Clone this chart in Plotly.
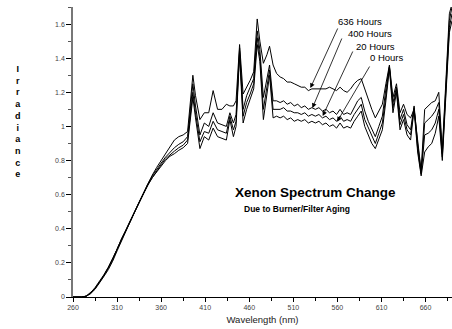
import plotly.graph_objects as go

wavelength = [260, 270, 275, 280, 285, 290, 295, 300, 305, 310,
              315, 320, 325, 330, 335, 340, 345, 350, 355, 360,
              365, 370, 375, 380, 385, 390, 393, 396, 399, 404,
              409, 414, 419, 424, 429, 434, 438, 442, 445, 449,
              453, 457, 461, 465, 469, 472, 476, 480, 483, 487,
              491, 495, 499, 503, 507, 511, 515, 519, 523, 527,
              531, 535, 539, 543, 547, 551, 555, 559, 563, 567,
              571, 575, 579, 583, 587, 591, 595, 599, 603, 607,
              611, 615, 619, 623, 627, 631, 635, 639, 643, 647,
              651, 655, 659, 663, 667, 671, 675, 679, 683, 687,
              690]

hours_0 = [0, 0, 0.005, 0.02, 0.045, 0.08, 0.12, 0.16, 0.21, 0.27,
           0.33, 0.385, 0.44, 0.50, 0.555, 0.61, 0.655, 0.70, 0.735, 0.77,
           0.80, 0.825, 0.84, 0.86, 0.875, 0.90, 1.02, 1.17, 1.05, 0.87,
           0.94, 0.92, 0.99, 0.94, 0.93, 0.92, 1.04, 0.94, 1.00, 1.42,
           1.02, 1.10, 1.16, 1.22, 1.48, 1.38, 1.04, 1.20, 1.30, 1.05,
           1.06, 1.05, 1.06, 1.04, 1.05, 1.03, 1.04, 1.03, 1.04, 1.02,
           1.03, 1.02, 1.03, 1.01, 1.02, 1.00, 1.01, 0.99, 1.02, 0.99,
           1.00, 0.99, 1.03, 1.06, 1.09, 1.00, 0.95, 0.90, 0.87, 0.92,
           0.98, 1.15, 1.34, 1.08, 1.20, 0.98, 1.04, 0.95, 0.92, 1.10,
           0.85, 0.71, 0.85, 0.88, 0.90, 0.96, 1.06, 0.80, 1.18, 1.55,
           1.62]

hours_20 = [0, 0, 0.005, 0.02, 0.05, 0.085, 0.125, 0.17, 0.22, 0.28,
            0.335, 0.39, 0.445, 0.50, 0.56, 0.61, 0.66, 0.70, 0.74, 0.775,
            0.81, 0.835, 0.855, 0.875, 0.89, 0.92, 1.05, 1.20, 1.08, 0.91,
            0.97, 0.96, 1.03, 0.98, 0.97, 0.96, 1.06, 0.98, 1.03, 1.44,
            1.06, 1.14, 1.19, 1.25, 1.52, 1.41, 1.10, 1.24, 1.33, 1.10,
            1.10, 1.10, 1.11, 1.09, 1.09, 1.08, 1.08, 1.07, 1.08, 1.06,
            1.07, 1.06, 1.07, 1.05, 1.06, 1.04, 1.05, 1.03, 1.06, 1.03,
            1.04, 1.03, 1.07, 1.10, 1.13, 1.04, 0.99, 0.94, 0.90, 0.96,
            1.02, 1.18, 1.35, 1.11, 1.22, 1.01, 1.07, 0.98, 0.95, 1.11,
            0.87, 0.72, 0.95, 0.96, 0.98, 1.02, 1.10, 0.82, 1.22, 1.58,
            1.66]

hours_400 = [0, 0, 0.005, 0.025, 0.055, 0.09, 0.13, 0.175, 0.225, 0.28,
             0.34, 0.395, 0.45, 0.505, 0.56, 0.615, 0.665, 0.71, 0.75, 0.785,
             0.82, 0.85, 0.875, 0.895, 0.91, 0.94, 1.10, 1.25, 1.12, 0.95,
             1.02, 1.00, 1.08, 1.02, 1.01, 1.00, 1.08, 1.02, 1.07, 1.46,
             1.10, 1.18, 1.23, 1.28, 1.56, 1.45, 1.17, 1.28, 1.36, 1.15,
             1.15, 1.14, 1.15, 1.13, 1.14, 1.12, 1.13, 1.11, 1.12, 1.10,
             1.11, 1.10, 1.11, 1.09, 1.10, 1.08, 1.09, 1.07, 1.10, 1.07,
             1.08, 1.07, 1.11, 1.15, 1.17, 1.09, 1.03, 0.98, 0.94, 1.00,
             1.06, 1.22, 1.35, 1.14, 1.23, 1.04, 1.10, 1.01, 0.98, 1.12,
             0.90, 0.73, 1.02, 1.04, 1.06, 1.09, 1.14, 0.84, 1.25, 1.62,
             1.70]

hours_636 = [0, 0, 0.005, 0.025, 0.05, 0.085, 0.125, 0.17, 0.22, 0.285,
             0.34, 0.39, 0.445, 0.50, 0.56, 0.615, 0.665, 0.715, 0.76, 0.80,
             0.845, 0.88, 0.92, 0.94, 0.95, 0.97, 1.15, 1.30, 1.18, 1.04,
             1.08, 1.08, 1.21, 1.10, 1.10, 1.13, 1.12, 1.12, 1.15, 1.48,
             1.19, 1.23, 1.27, 1.32, 1.63, 1.50, 1.37, 1.42, 1.47, 1.36,
             1.31, 1.29, 1.28, 1.26, 1.26, 1.25, 1.24, 1.23, 1.23, 1.21,
             1.22, 1.22, 1.22, 1.22, 1.22, 1.23, 1.22, 1.21, 1.23, 1.21,
             1.20, 1.22, 1.25, 1.27, 1.28, 1.22, 1.15, 1.10, 1.05, 1.09,
             1.13, 1.25, 1.36, 1.17, 1.25, 1.08, 1.13, 1.07, 1.05, 1.10,
             0.92, 0.74, 1.10, 1.12, 1.14, 1.15, 1.20, 0.86, 1.28, 1.66,
             1.72]

series_names = ["0 Hours", "20 Hours", "400 Hours", "636 Hours"]
series_values = [hours_0, hours_20, hours_400, hours_636]

x_tick_values = [260, 310, 360, 410, 460, 510, 560, 610, 660]
y_tick_values = [0, 0.2, 0.4, 0.6, 0.8, 1.0, 1.2, 1.4, 1.6]
y_tick_labels = ["0", "0.2", "0.4", "0.6", "0.8", "1", "1.2", "1.4", "1.6"]

title_text = "Xenon Spectrum Change"
subtitle_text = "Due to Burner/Filter Aging"
x_title = "Wavelength (nm)"
y_title = "Irradiance"

# label text positions and arrow tail/head (data coords)
label_pos = {
    "636 Hours": (585.6, 1.614, 561.1, 1.583, 529.3, 1.225),
    "400 Hours": (596.9, 1.543, 565.7, 1.524, 531.6, 1.108),
    "20 Hours": (603.5, 1.467, 578.2, 1.448, 543.3, 1.061),
    "0 Hours": (616.8, 1.405, 597.5, 1.360, 559.7, 1.028),
}

FONT = "Liberation Sans, Arial, Helvetica, sans-serif"

fig = go.Figure()
for name, vals in zip(series_names, series_values):
    fig.add_trace(go.Scatter(x=wavelength, y=vals, mode="lines", name=name,
                             line=dict(color="black", width=1),
                             showlegend=False, cliponaxis=True))

annotations = []
for name, (tx, ty, ax0, ay0, hx, hy) in label_pos.items():
    annotations.append(dict(x=tx, y=ty, xref="x", yref="y", text=name,
                            showarrow=False, xanchor="center", yanchor="middle",
                            font=dict(family=FONT, size=9.5, color="black")))
    annotations.append(dict(x=hx, y=hy, ax=ax0, ay=ay0, xref="x", yref="y",
                            axref="x", ayref="y", text="", showarrow=True,
                            arrowhead=2, arrowsize=1.2, arrowwidth=0.8,
                            arrowcolor="black"))

annotations.append(dict(x=535.6, y=0.615, xref="x", yref="y",
                        text="<b>" + title_text + "</b>", showarrow=False,
                        xanchor="center", yanchor="middle",
                        font=dict(family=FONT, size=13.5, color="black")))
annotations.append(dict(x=514.5, y=0.514, xref="x", yref="y",
                        text="<b>" + subtitle_text + "</b>", showarrow=False,
                        xanchor="center", yanchor="middle",
                        font=dict(family=FONT, size=8.5, color="black")))
annotations.append(dict(x=-0.145, y=0.6045, xref="paper", yref="paper",
                        text="<b>" + "<br>".join(list(y_title)) + "</b>",
                        showarrow=False, xanchor="center", yanchor="middle",
                        align="center",
                        font=dict(family=FONT, size=9, color="black")))

fig.update_layout(
    width=452, height=329,
    margin=dict(l=73, r=0, t=7, b=32),
    paper_bgcolor="white", plot_bgcolor="white",
    annotations=annotations,
    font=dict(family=FONT),
)
fig.update_xaxes(
    range=[260, 690], tickvals=x_tick_values,
    ticks="outside", ticklen=4, tickwidth=1, tickcolor="black",
    showline=True, linecolor="black", linewidth=1,
    showgrid=False, zeroline=False,
    tickfont=dict(family=FONT, size=7, color="#444"),
    minor=dict(ticks="outside", ticklen=3, tickcolor="black", dtick=25, tick0=260, showgrid=False),
    title=dict(text=x_title, font=dict(family=FONT, size=9.5, color="#222"), standoff=5),
)
fig.update_yaxes(
    range=[0, 1.70], tickvals=y_tick_values, ticktext=y_tick_labels,
    ticks="outside", ticklen=5, tickwidth=1, tickcolor="black",
    showline=True, linecolor="#777", linewidth=1.5,
    showgrid=False, zeroline=False,
    tickfont=dict(family=FONT, size=7, color="#444"),
    minor=dict(ticks="outside", ticklen=3, tickcolor="#555", dtick=0.1, tick0=0, showgrid=False),
)

fig.write_html("out.html")
